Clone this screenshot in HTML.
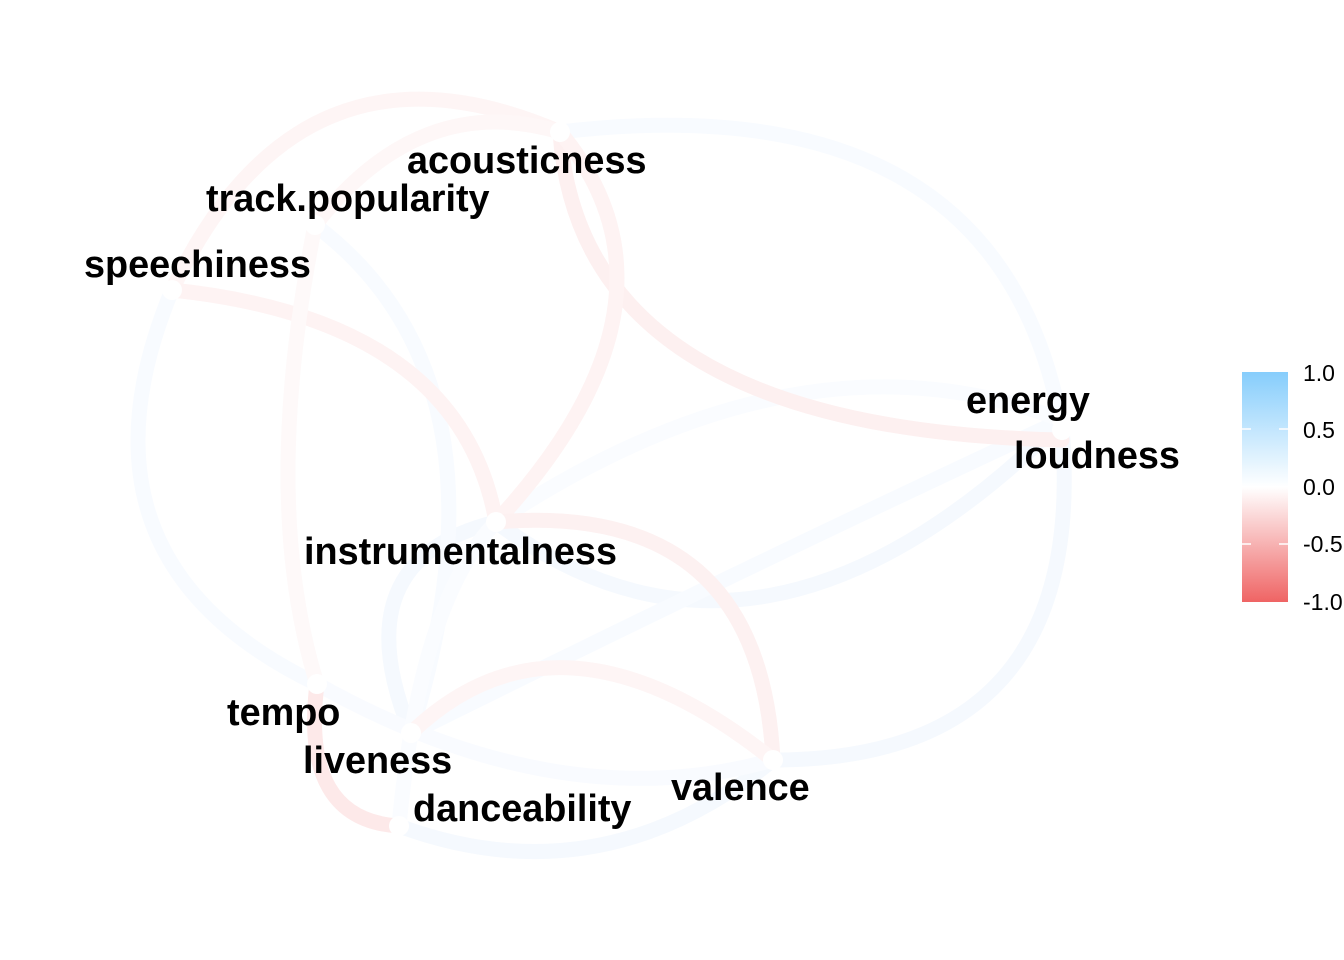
<!DOCTYPE html>
<html><head><style>
body{margin:0;width:1344px;height:960px;background:#fff;overflow:hidden;position:relative;font-family:"Liberation Sans",Arial,sans-serif}
svg{position:absolute;left:0;top:0}
</style></head><body>
<svg width="1344" height="960" viewBox="0 0 1344 960">
<defs>
<linearGradient id="lg" x1="0" y1="0" x2="0" y2="1">
<stop offset="0" stop-color="#86cdfc"/>
<stop offset="0.5" stop-color="#ffffff"/>
<stop offset="1" stop-color="#ef6464"/>
</linearGradient>
</defs>
<g fill="none" stroke-width="15" stroke-linecap="round">
<path d="M172,290 Q60,560 317,684" stroke="#f8fbff"/>
<path d="M560,132 Q1000,80 1062,428" stroke="#f8fbff"/>
<path d="M496,522 Q760,720 1062,420" stroke="#f5f9fe"/>
<path d="M1062,428 Q1090,760 773,760" stroke="#f5f9fe"/>
<path d="M399,826 Q600,900 773,760" stroke="#f5f9fe"/>
<path d="M411,733 Q760,560 1062,420" stroke="#f8fbff"/>
<path d="M411,733 Q340,560 496,522" stroke="#f5f9fe"/>
<path d="M315,225 Q520,380 411,733" stroke="#f8fbff"/>
<path d="M317,684 Q560,820 773,760" stroke="#f9fbff"/>
<path d="M399,826 Q420,600 496,522" stroke="#fafcff"/>
<path d="M496,522 Q800,320 1062,420" stroke="#fafcff"/>
<path d="M172,290 Q300,20 560,132" stroke="#fef5f5"/>
<path d="M560,132 Q580,430 1062,440" stroke="#fdf0f0"/>
<path d="M560,132 Q700,300 496,522" stroke="#fef3f3"/>
<path d="M172,290 Q460,320 496,522" stroke="#fef3f3"/>
<path d="M496,522 Q760,500 773,760" stroke="#fdf1f1"/>
<path d="M411,733 Q560,590 773,760" stroke="#fef5f5"/>
<path d="M317,684 Q300,820 399,826" stroke="#fde9e9"/>
<path d="M315,225 Q420,90 560,132" stroke="#fef7f7"/>
<path d="M317,684 Q260,500 315,225" stroke="#fef9f9"/>
</g>
<g fill="#fff">
<circle cx="560" cy="132" r="10"/><circle cx="315" cy="225" r="10"/><circle cx="172" cy="290" r="10"/>
<circle cx="1062" cy="420" r="10"/><circle cx="1062" cy="430" r="10"/><circle cx="496" cy="522" r="10"/>
<circle cx="317" cy="684" r="10"/><circle cx="411" cy="733" r="10"/><circle cx="399" cy="826" r="10"/><circle cx="773" cy="760" r="10"/>
</g>
<g font-family="Liberation Sans, Arial, sans-serif" font-weight="bold" font-size="37.8" fill="#000">
<text x="407" y="173">acousticness</text>
<text x="206" y="211">track.popularity</text>
<text x="84" y="277">speechiness</text>
<text x="966" y="413">energy</text>
<text x="1014" y="468">loudness</text>
<text x="304" y="564">instrumentalness</text>
<text x="227" y="725">tempo</text>
<text x="303" y="773">liveness</text>
<text x="413" y="821">danceability</text>
<text x="671" y="800">valence</text>
</g>
<rect x="1242" y="372" width="46" height="230" fill="url(#lg)"/>
<g stroke="#fff" stroke-width="1.5">
<line x1="1242" y1="429" x2="1251" y2="429"/><line x1="1279" y1="429" x2="1288" y2="429"/>
<line x1="1242" y1="487" x2="1251" y2="487"/><line x1="1279" y1="487" x2="1288" y2="487"/>
<line x1="1242" y1="544" x2="1251" y2="544"/><line x1="1279" y1="544" x2="1288" y2="544"/>
</g>
<g font-family="Liberation Sans, Arial, sans-serif" font-size="23" fill="#000">
<text x="1303" y="381">1.0</text>
<text x="1303" y="438">0.5</text>
<text x="1303" y="495">0.0</text>
<text x="1303" y="552">-0.5</text>
<text x="1303" y="610">-1.0</text>
</g>
</svg>
</body></html>
